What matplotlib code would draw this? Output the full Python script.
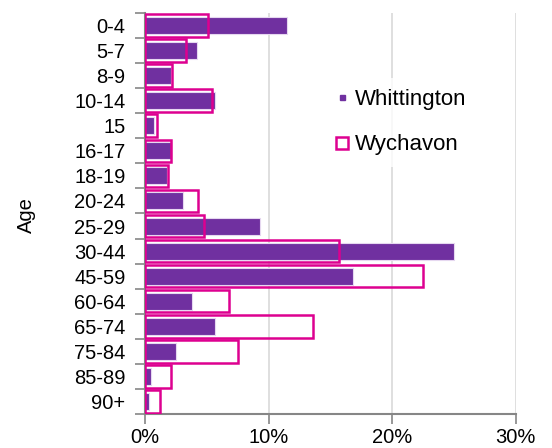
import numpy as np
import matplotlib
matplotlib.use("Agg")
import matplotlib.pyplot as plt
from matplotlib.lines import Line2D

plt.rcParams['font.family'] = ['Liberation Sans', 'DejaVu Sans']

ages = ["0-4", "5-7", "8-9", "10-14", "15", "16-17", "18-19", "20-24", "25-29",
        "30-44", "45-59", "60-64", "65-74", "75-84", "85-89", "90+"]
whittington = [11.5, 4.2, 2.1, 5.7, 0.75, 2.1, 1.8, 3.1, 9.3,
               25.0, 16.8, 3.8, 5.7, 2.5, 0.45, 0.3]
wychavon = [5.1, 3.3, 2.2, 5.4, 1.0, 2.1, 1.9, 4.3, 4.8,
            15.7, 22.5, 6.8, 13.6, 7.5, 2.1, 1.25]

purple = "#7030A0"
magenta = "#DD0090"
grey = "#868686"

fig = plt.figure(figsize=(5.52, 4.48), dpi=100)
ax = fig.add_axes([0.2627, 0.0759, 0.6715, 0.8951])

y = np.arange(len(ages))
ax.barh(y, whittington, height=0.68, color=purple, edgecolor="#E6D8F0",
        linewidth=0.8, zorder=2)
ax.barh(y, wychavon, height=0.9, facecolor="none", edgecolor=magenta,
        linewidth=1.8, zorder=3)

ax.set_xlim(0, 30)
ax.set_ylim(len(ages) - 0.5, -0.5)
ax.set_xticks([0, 10, 20, 30])
ax.set_xticklabels(["0%", "10%", "20%", "30%"])
ax.set_yticks(np.arange(len(ages) + 1) - 0.5)
ax.set_yticklabels([])
ax.set_yticks(y, minor=True)
ax.set_yticklabels(ages, minor=True)
ax.tick_params(axis="y", which="minor", length=0, pad=14, labelsize=14.5)
ax.tick_params(axis="y", which="major", length=7, color=grey, width=1.2)
ax.tick_params(axis="x", length=7, color=grey, width=1.2, labelsize=14.5, pad=3)

ax.grid(axis="x", color="#D9D9D9", linewidth=1.2, zorder=0)
ax.set_axisbelow(True)
for s in ["top", "right"]:
    ax.spines[s].set_visible(False)
for s in ["left", "bottom"]:
    ax.spines[s].set_color(grey)
    ax.spines[s].set_linewidth(1.5)

fig.text(0.048, 0.52, "Age", rotation=90, fontsize=14.5, va="center", ha="center")

handles = [
    Line2D([], [], linestyle="none", marker="s", markersize=3.6,
           markerfacecolor=purple, markeredgecolor=purple),
    Line2D([], [], linestyle="none", marker="s", markersize=8.5,
           markerfacecolor="white", markeredgecolor=magenta, markeredgewidth=1.8),
]
leg = ax.legend(handles, ["Whittington", "Wychavon"], loc="center left",
                bbox_to_anchor=(0.4525, 0.7275), frameon=True, fontsize=16,
                handlelength=0.6, handletextpad=0.28, labelspacing=1.1,
                borderpad=0.5, fancybox=False)
leg.get_frame().set_facecolor("white")
leg.get_frame().set_edgecolor("none")

fig.savefig("out.png", dpi=100)
